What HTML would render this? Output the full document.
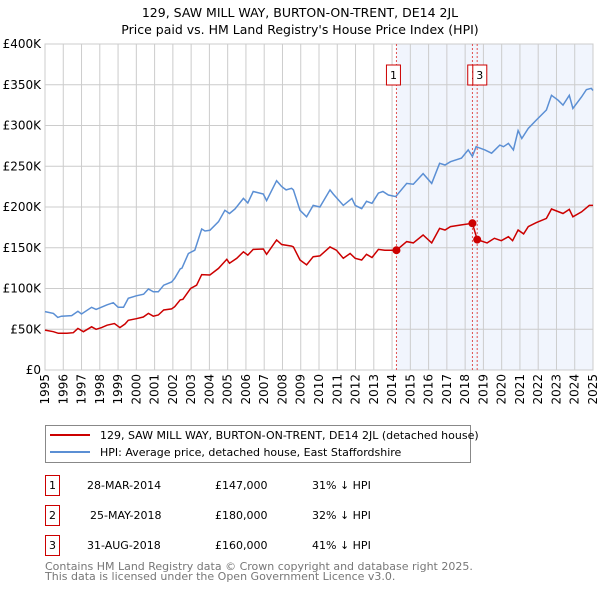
<!DOCTYPE html>
<html><head><meta charset="utf-8"><style>
body{margin:0;background:#fff;width:600px;height:590px;overflow:hidden;font-family:"DejaVu Sans","Liberation Sans",sans-serif}
svg text{font-family:"DejaVu Sans","Liberation Sans",sans-serif}
</style></head><body>
<svg id="chart" width="600" height="590" xmlns="http://www.w3.org/2000/svg">
<text x="300" y="17" text-anchor="middle" font-size="12.5">129, SAW MILL WAY, BURTON-ON-TRENT, DE14 2JL</text>
<text x="300" y="34" text-anchor="middle" font-size="12.5">Price paid vs. HM Land Registry's House Price Index (HPI)</text>
<g id="plot"></g>
<g>
<rect x="45.5" y="425.5" width="425" height="37" fill="#fff" stroke="#888"/>
<line x1="50" y1="435" x2="90" y2="435" stroke="#cc0000" stroke-width="2"/>
<text x="100" y="439" font-size="11">129, SAW MILL WAY, BURTON-ON-TRENT, DE14 2JL (detached house)</text>
<line x1="50" y1="452" x2="90" y2="452" stroke="#5b8fd4" stroke-width="2"/>
<text x="100" y="456" font-size="11">HPI: Average price, detached house, East Staffordshire</text>
</g>
<g font-size="11">
<rect x="45.5" y="475.5" width="14" height="20" fill="#fff" stroke="#cc0000"/><text x="52.5" y="489" text-anchor="middle">1</text>
<text x="87" y="489">28-MAR-2014</text><text x="215" y="489">£147,000</text><text x="312" y="489">31% ↓ HPI</text>
<rect x="45.5" y="505.5" width="14" height="20" fill="#fff" stroke="#cc0000"/><text x="52.5" y="519" text-anchor="middle">2</text>
<text x="90" y="519">25-MAY-2018</text><text x="215" y="519">£180,000</text><text x="312" y="519">32% ↓ HPI</text>
<rect x="45.5" y="535.5" width="14" height="20" fill="#fff" stroke="#cc0000"/><text x="52.5" y="549" text-anchor="middle">3</text>
<text x="87" y="549">31-AUG-2018</text><text x="215" y="549">£160,000</text><text x="312" y="549">41% ↓ HPI</text>
</g>
<text x="45" y="570" font-size="11" fill="#777">Contains HM Land Registry data © Crown copyright and database right 2025.</text>
<text x="45" y="580" font-size="11" fill="#777">This data is licensed under the Open Government Licence v3.0.</text>
</svg>
<script>
const hpiYears=[1995.0,1995.46,1995.7,1995.9,1996.46,1996.8,1997.0,1997.55,1997.8,1998.4,1998.74,1999.0,1999.3,1999.56,2000.0,2000.4,2000.66,2000.93,2001.2,2001.5,2001.93,2002.1,2002.4,2002.5,2002.85,2003.2,2003.58,2003.76,2004.03,2004.5,2004.85,2005.1,2005.4,2005.86,2006.1,2006.4,2006.95,2007.13,2007.68,2007.96,2008.2,2008.5,2008.6,2008.96,2009.32,2009.68,2010.05,2010.6,2010.78,2011.33,2011.8,2011.98,2012.34,2012.6,2012.9,2013.25,2013.5,2013.8,2014.2,2014.8,2015.16,2015.7,2016.17,2016.6,2016.9,2017.2,2017.8,2018.17,2018.4,2018.6,2019.08,2019.45,2019.9,2020.1,2020.37,2020.64,2020.9,2021.1,2021.46,2021.9,2022.45,2022.73,2023.09,2023.36,2023.7,2023.9,2024.37,2024.64,2024.9,2025.0];
const hpiValues=[71.6,69.5,64.6,66,66.7,72,68.7,76.9,74.4,80,82.6,76.9,76.9,88,91,93,99.4,96,96,104,108,112.5,124,125,143,147,173,170.6,171.4,182,196,192,197.5,210.6,205,219,216,207.8,232.3,225,221,223,221,196,188,202,200,221,216,202,210.6,202,198,207,204.5,217,219,214.7,212.7,229,228,241,229,253.6,251.5,255.6,260,270,262,274,270,266,276,274,278,270,293.7,284,296.5,306.8,319,337,331,325,337,321,335,344,345.6,343];
const ppYears=[1995.0,1995.46,1995.73,1996.2,1996.55,1996.8,1997.1,1997.55,1997.8,1998.1,1998.4,1998.8,1999.1,1999.38,1999.56,2000.0,2000.38,2000.66,2000.93,2001.2,2001.5,2001.93,2002.1,2002.4,2002.55,2002.97,2003.3,2003.58,2004.03,2004.5,2004.95,2005.1,2005.5,2005.86,2006.1,2006.4,2006.95,2007.13,2007.68,2007.96,2008.5,2008.6,2008.96,2009.32,2009.68,2010.05,2010.6,2010.95,2011.33,2011.7,2011.98,2012.34,2012.6,2012.9,2013.25,2013.6,2013.98,2014.24,2014.8,2015.16,2015.7,2016.17,2016.6,2016.9,2017.2,2017.8,2018.4,2018.66,2019.2,2019.6,2019.98,2020.37,2020.6,2020.9,2021.2,2021.46,2021.9,2022.45,2022.73,2023.36,2023.7,2023.9,2024.37,2024.8,2025.0];
const ppValues=[49,47,45,45,45.8,51,47,53,50,52,55,57,52,56.4,61,63,65,69.5,66,67.5,73.6,75,77.7,86,86.7,100,104,117,116.6,124.7,135.8,131,137,145,141,148,148.5,142,159.5,154,152,151,135,129,139,140,151,147,137,143,137,135,142,138,148,147,147,147,157.5,156,165.6,156,173.8,171.8,175.9,178,180,160,156,161.6,158.7,163.6,158.7,171.8,167,176,180.8,186,197.5,192,197,188,194,202,202];
const saleLabels=["1","2","3"];
const saleYears=[2014.24,2018.4,2018.66];
const saleValues=[147,180,160];
const yTicks=[0,50,100,150,200,250,300,350,400];
const yTickLabels=["£0","£50K","£100K","£150K","£200K","£250K","£300K","£350K","£400K"];
const xTicks=[1995,1996,1997,1998,1999,2000,2001,2002,2003,2004,2005,2006,2007,2008,2009,2010,2011,2012,2013,2014,2015,2016,2017,2018,2019,2020,2021,2022,2023,2024,2025];

const X0=45,X1=593,Y0=370,Y1=44;
const sx=y=>X0+(y-1995)/30*(X1-X0);
const sy=v=>Y0-v/400*(Y0-Y1);
const NS="http://www.w3.org/2000/svg";
const g=document.getElementById('plot');
function mk(t,a){const e=document.createElementNS(NS,t);for(const k in a)e.setAttribute(k,a[k]);g.appendChild(e);return e;}
let e;
e=mk('rect',{x:sx(saleYears[0]),y:Y1,width:X1-sx(saleYears[0]),height:Y0-Y1,fill:'#eef2fc',opacity:0.8});


yTicks.forEach((v,i)=>{
 e=mk('line',{x1:X0,x2:X1,y1:sy(v),y2:sy(v),stroke:'#ccc','stroke-width':1});
 
 
 e=mk('text',{x:41,y:sy(v)+4,'text-anchor':'end','font-size':12});
 e.textContent=yTickLabels[i];
 
 
});
xTicks.forEach(y=>{
 e=mk('line',{x1:sx(y),x2:sx(y),y1:Y1,y2:Y0,stroke:'#ccc','stroke-width':1});
 
 
 e=mk('text',{x:0,y:0,'text-anchor':'end','font-size':12,transform:`translate(${sx(y)+4},374) rotate(-90)`});
 e.textContent=y;
 
 
});
e=mk('rect',{x:X0,y:Y1,width:X1-X0,height:Y0-Y1,fill:'none',stroke:'#ccc'});


saleYears.forEach(y=>{
 e=mk('line',{x1:sx(y),x2:sx(y),y1:Y1,y2:Y0,stroke:'#e05050','stroke-width':1,'stroke-dasharray':'2,2'});
 
 
});
const pts=(xs,vs)=>xs.map((y,i)=>sx(y).toFixed(1)+','+sy(vs[i]).toFixed(1)).join(' ');
e=mk('polyline',{points:pts(hpiYears,hpiValues),fill:'none',stroke:'#5b8fd4','stroke-width':1.5});


e=mk('polyline',{points:pts(ppYears,ppValues),fill:'none',stroke:'#cc0000','stroke-width':1.5});


const boxOff=[-10,-4.7,-4.4];
saleYears.forEach((y,i)=>{
 e=mk('circle',{cx:sx(y),cy:sy(saleValues[i]),r:4,fill:'#cc0000'});
 
 
 const bx=sx(y)+boxOff[i];
 e=mk('rect',{x:bx,y:65,width:14,height:20,fill:'#fff',stroke:'#cc0000'});
 
 
 e=mk('text',{x:bx+7,y:79,'text-anchor':'middle','font-size':11});
 e.textContent=saleLabels[i];
 
 
});
</script>
</body></html>
